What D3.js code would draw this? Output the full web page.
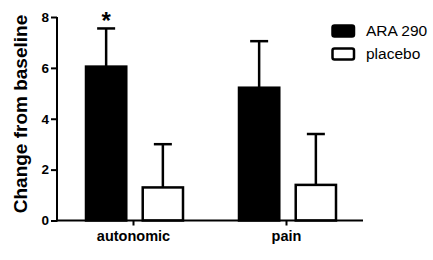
<!DOCTYPE html>
<html>
<head>
<meta charset="utf-8">
<script src="https://cdn.jsdelivr.net/npm/d3@7"></script>
<style>
  body { margin: 0; background: #fff; }
  text { font-family: "Liberation Sans", Arial, sans-serif; }
</style>
</head>
<body>
<div id="chart"></div>
<script>
var categories = ["autonomic", "pain"]
var series = ["ARA 290", "placebo"]
var means = [[6.05, 1.3], [5.22, 1.4]]      // [category][series]
var errors = [[1.5, 1.7], [1.83, 2.0]]
var yTicks = [0, 2, 4, 6, 8]
var starred = [[true, false], [false, false]]

var width = 433, height = 260
var margins = {top: 17, left: 57, right: 70, bottom: 40}
var inner_width = 363 - margins.left
var inner_height = 220.5 - margins.top

var svg = d3.select("#chart").append("svg")
            .attr("width", width)
            .attr("height", height)

var g = svg.append("g")
           .attr("transform", "translate(" + margins.left + "," + margins.top + ")")

var x0 = d3.scaleBand().domain(categories).range([0, inner_width])
var x1 = d3.scaleBand().domain(series).range([29, 126]).paddingInner(0.29)
var y = d3.scaleLinear().domain([0, 8]).range([inner_height, 0])

var fills = ["#000", "#fff"]

var rows = []
categories.forEach(function (c, i) {
   series.forEach(function (s, j) {
      rows.push({cat: c, ser: s, j: j, v: means[i][j], e: errors[i][j], star: starred[i][j]})
   })
})

// error bars (upper only, drawn behind bars)
var eb = g.selectAll(".err").data(rows).enter().append("g")
eb.append("line")
  .attr("x1", function (d) { return x0(d.cat) + x1(d.ser) + x1.bandwidth()/2 })
  .attr("x2", function (d) { return x0(d.cat) + x1(d.ser) + x1.bandwidth()/2 })
  .attr("y1", function (d) { return y(d.v) })
  .attr("y2", function (d) { return y(d.v + d.e) })
  .attr("stroke", "#000").attr("stroke-width", 2.5)
eb.append("line")
  .attr("x1", function (d) { return x0(d.cat) + x1(d.ser) + x1.bandwidth()/2 - 9 })
  .attr("x2", function (d) { return x0(d.cat) + x1(d.ser) + x1.bandwidth()/2 + 9 })
  .attr("y1", function (d) { return y(d.v + d.e) })
  .attr("y2", function (d) { return y(d.v + d.e) })
  .attr("stroke", "#000").attr("stroke-width", 2.5)

g.selectAll(".bar").data(rows).enter().append("rect")
  .attr("x", function (d) { return x0(d.cat) + x1(d.ser) })
  .attr("y", function (d) { return y(d.v) })
  .attr("width", x1.bandwidth())
  .attr("height", function (d) { return y(0) - y(d.v) })
  .attr("fill", function (d) { return fills[d.j] })
  .attr("stroke", "#000").attr("stroke-width", 2.5)

g.selectAll(".star").data(rows.filter(function (d) { return d.star })).enter().append("text")
  .attr("x", function (d) { return x0(d.cat) + x1(d.ser) + x1.bandwidth()/2 })
  .attr("y", function (d) { return y(d.v + d.e) + 1 })
  .attr("text-anchor", "middle")
  .attr("font-size", 24).attr("font-weight", "bold")
  .text("*")

// axes
var ya = g.append("g")
  .call(d3.axisLeft(y).tickValues(yTicks).tickSize(6).tickPadding(2).tickFormat(d3.format("d")))
var xa = g.append("g")
  .attr("transform", "translate(0," + inner_height + ")")
  .call(d3.axisBottom(x0).tickSize(5).tickPadding(5).tickSizeOuter(0))
;[ya, xa].forEach(function (a) {
   a.select(".domain").attr("stroke-width", 2)
   a.selectAll(".tick line").attr("stroke-width", 2)
   a.selectAll("text").attr("font-size", 13.5).attr("font-weight", "bold")
      .attr("font-family", "Liberation Sans, Arial, sans-serif").attr("fill", "#000")
})
xa.selectAll("text").attr("font-size", 14.5)
ya.select(".domain").attr("d", "M0," + (inner_height + 1) + "V0")
xa.select(".domain").attr("d", "M-1,0H" + inner_width)

svg.append("text")
  .attr("transform", "translate(26.5,114) rotate(-90)")
  .attr("text-anchor", "middle")
  .attr("font-size", 19).attr("font-weight", "bold")
  .text("Change from baseline")

// legend
var lg = svg.selectAll(".leg").data(series).enter().append("g")
  .attr("transform", function (d, i) { return "translate(331," + (36 + i * 23) + ")" })
lg.append("rect")
  .attr("x", 1.5).attr("y", -10.5).attr("width", 21.5).attr("height", 11).attr("rx", 2)
  .attr("fill", function (d, i) { return fills[i] })
  .attr("stroke", "#000").attr("stroke-width", 2.5)
lg.append("text")
  .attr("x", 35).attr("y", 0)
  .attr("font-size", 15.5)
  .text(function (d) { return d })
</script>
</body>
</html>
